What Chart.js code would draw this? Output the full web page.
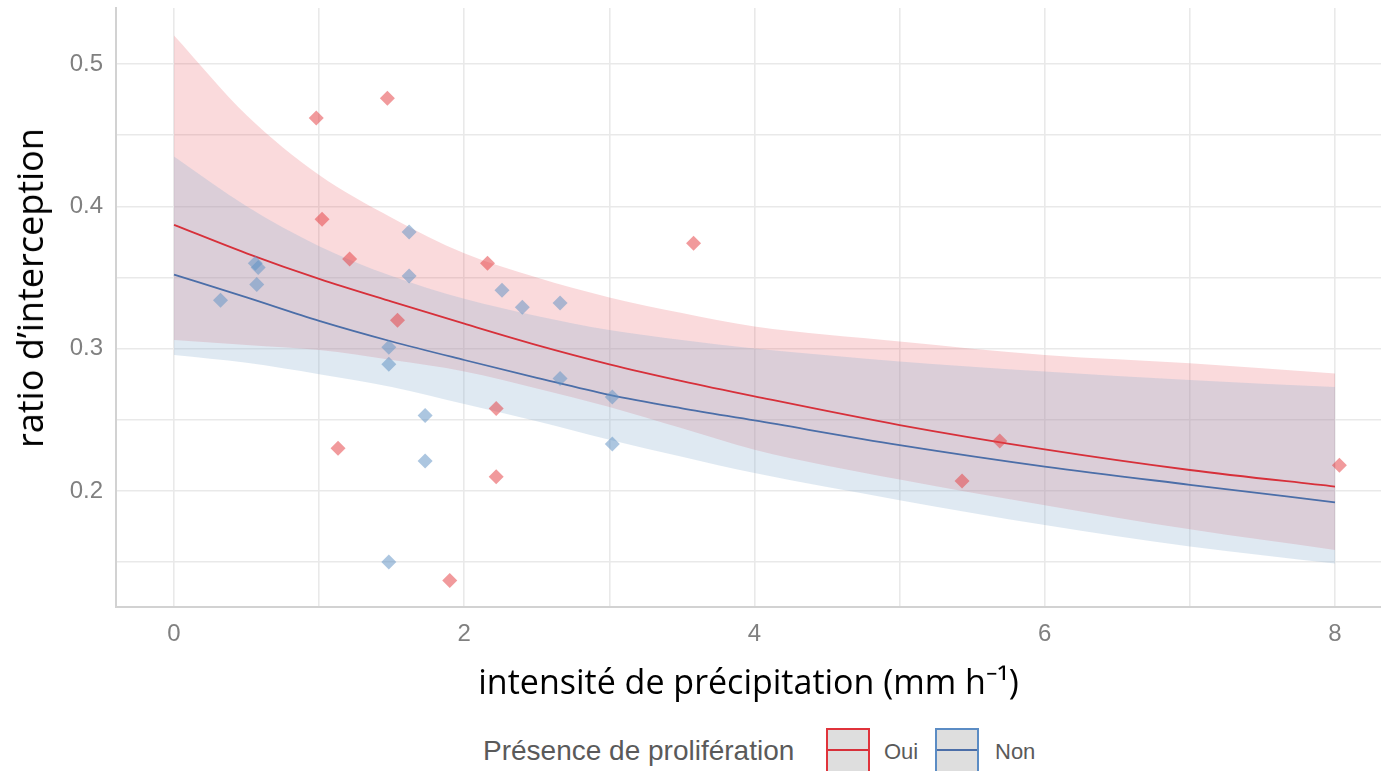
<!DOCTYPE html>
<html lang="fr">
<head>
<meta charset="utf-8">
<title>Ratio d'interception</title>
<script src="https://cdn.jsdelivr.net/npm/chart.js@4.4.1/dist/chart.umd.min.js"></script>
<style>
  html, body { margin: 0; padding: 0; background: #fff; overflow: hidden; }
  #wrap { position: relative; width: 1381px; height: 771px; }
  #plot { position: absolute; left: 0; top: 0; width: 1381px; height: 711px; }
  .ytitle { position: absolute; left: 30px; top: 288px; transform: translate(-50%, -50%) rotate(-90deg);
    font-family: "Open Sans", sans-serif; font-size: 36px; line-height: 36px; color: #000; white-space: nowrap; }
  .lg { position: absolute; font-family: "Liberation Sans", Arial, sans-serif; color: #5a5a5a; white-space: nowrap; }
  .lg-title { left: 483px; top: 734px; font-size: 28px; line-height: 34px; }
  .lg-text { top: 738px; font-size: 22px; line-height: 28px; }
  .key { position: absolute; top: 728px; width: 40px; height: 44px; background: #dedede; border: 2px solid; }
  .key i { position: absolute; left: 0; right: 0; top: 19px; height: 2px; }
</style>
</head>
<body>
<div id="wrap">
  <div id="plot"><canvas id="chart"></canvas></div>
  <div class="ytitle">ratio d’interception</div>
  <div class="lg lg-title">Présence de prolifération</div>
  <div class="key" style="left:826px;border-color:#e0333b"><i style="background:#d7303a"></i></div>
  <div class="lg lg-text" style="left:884px">Oui</div>
  <div class="key" style="left:935px;border-color:#5b8cc4"><i style="background:#4b6ea8"></i></div>
  <div class="lg lg-text" style="left:995px">Non</div>
</div>
<script>
// ── valeurs ─────────────────────────────────────────────────
const X_TICKS = [0, 1, 2, 3, 4, 5, 6, 7, 8];
const X_LABELS = [0, 2, 4, 6, 8];
const Y_TICKS = [0.15, 0.2, 0.25, 0.3, 0.35, 0.4, 0.45, 0.5];
const Y_LABELS = [0.2, 0.3, 0.4, 0.5];

// observations (Oui = rouge, Non = bleu)
const OUI_X = [0.98, 1.47, 1.02, 1.21, 2.16, 1.54, 2.22, 1.13, 2.22, 1.90, 3.58, 5.69, 5.43, 8.03];
const OUI_Y = [0.462, 0.476, 0.391, 0.363, 0.360, 0.320, 0.258, 0.230, 0.210, 0.137, 0.374, 0.235, 0.207, 0.218];
const NON_X = [1.62, 0.56, 0.58, 0.57, 0.32, 1.62, 2.26, 2.40, 2.66, 1.48, 1.48, 2.66, 3.02, 1.73, 1.73, 3.02, 1.48];
const NON_Y = [0.382, 0.360, 0.357, 0.345, 0.334, 0.351, 0.341, 0.329, 0.332, 0.301, 0.289, 0.279, 0.266, 0.253, 0.221, 0.233, 0.150];

// courbes ajustées + intervalles
const FIT_X = [0, 0.5, 1, 1.5, 2, 2.5, 3, 3.5, 4, 5, 6, 7, 8];
const OUI_FIT = [0.387, 0.367, 0.349, 0.333, 0.3175, 0.3025, 0.289, 0.2772, 0.2665, 0.2463, 0.2292, 0.2147, 0.203];
const OUI_HI = [0.520, 0.464, 0.422, 0.392, 0.367, 0.350, 0.336, 0.325, 0.3155, 0.305, 0.2955, 0.2897, 0.2826];
const OUI_LO = [0.306, 0.3025, 0.299, 0.292, 0.284, 0.272, 0.259, 0.244, 0.229, 0.208, 0.190, 0.173, 0.1585];
const NON_FIT = [0.352, 0.336, 0.3195, 0.305, 0.292, 0.2795, 0.2675, 0.258, 0.2495, 0.2322, 0.2171, 0.2043, 0.192];
const NON_HI = [0.435, 0.400, 0.372, 0.351, 0.335, 0.323, 0.313, 0.306, 0.300, 0.291, 0.284, 0.278, 0.273];
const NON_LO = [0.2955, 0.290, 0.282, 0.273, 0.261, 0.249, 0.236, 0.224, 0.2125, 0.1935, 0.176, 0.161, 0.149];

const pts = (xs, ys) => xs.map((x, i) => ({ x, y: ys[i] }));
const near = (v, list) => list.some((t) => Math.abs(v - t) < 1e-6);

const curve = (data, color, width) => ({
    data, showLine: true, pointRadius: 0, borderColor: color, borderWidth: width,
    cubicInterpolationMode: 'monotone', fill: false,
});
const band = (data, fill) => ({
    data, showLine: true, pointRadius: 0, borderWidth: 0, borderColor: 'rgba(0,0,0,0)',
    cubicInterpolationMode: 'monotone', backgroundColor: fill, fill: fill ? '+1' : false,
});

const gridOpts = { color: '#e9e9e9', lineWidth: 1.6, drawTicks: false };
const borderOpts = { display: true, color: '#d2d2d2', width: 2 };
const tickFont = { family: '"Liberation Sans", Arial, sans-serif', size: 24 };

new Chart(document.getElementById('chart'), {
    type: 'scatter',
    data: {
        datasets: [
            { data: pts(OUI_X, OUI_Y), pointStyle: 'rectRot', pointRadius: 7.5, borderWidth: 0, backgroundColor: 'rgba(228,62,66,0.52)' },
            { data: pts(NON_X, NON_Y), pointStyle: 'rectRot', pointRadius: 7.5, borderWidth: 0, backgroundColor: 'rgba(96,146,196,0.52)' },
            curve(pts(FIT_X, OUI_FIT), '#d7303a', 1.8),
            curve(pts(FIT_X, NON_FIT), '#4b6ea8', 1.8),
            band(pts(FIT_X, NON_HI), 'rgba(136,173,207,0.27)'),
            band(pts(FIT_X, NON_LO), null),
            band(pts(FIT_X, OUI_HI), 'rgba(230,70,80,0.2)'),
            band(pts(FIT_X, OUI_LO), null),
        ],
    },
    options: {
        responsive: true,
        maintainAspectRatio: false,
        animation: false,
        layout: { autoPadding: false, padding: { top: 8, right: 0, bottom: 0, left: 0 } },
        plugins: { legend: { display: false }, tooltip: { enabled: false } },
        scales: {
            x: {
                type: 'linear', min: -0.4, max: 8.317,
                afterBuildTicks: (s) => { s.ticks = X_TICKS.map((v) => ({ value: v })); },
                afterFit: (s) => { s.height = 104; s.paddingLeft = 0; s.paddingRight = 0; },
                grid: gridOpts, border: borderOpts,
                ticks: { color: '#808080', font: tickFont, padding: 13, maxRotation: 0, autoSkip: false,
                    callback: (v) => near(v, X_LABELS) ? String(v) : '' },
                title: { display: true, text: 'intensité de précipitation (mm h⁻¹)', color: '#000',
                    font: { family: '"Open Sans", sans-serif', size: 34 }, padding: { top: 0, bottom: 6 } },
            },
            y: {
                type: 'linear', min: 0.1184, max: 0.5394,
                afterBuildTicks: (s) => { s.ticks = Y_TICKS.map((v) => ({ value: v })); },
                afterFit: (s) => { s.width = 116; s.paddingTop = 0; s.paddingBottom = 0; },
                grid: gridOpts, border: borderOpts,
                ticks: { color: '#808080', font: tickFont, padding: 13, autoSkip: false,
                    callback: (v) => near(v, Y_LABELS) ? v.toFixed(1) : '' },
            },
        },
    },
});
</script>
</body>
</html>
